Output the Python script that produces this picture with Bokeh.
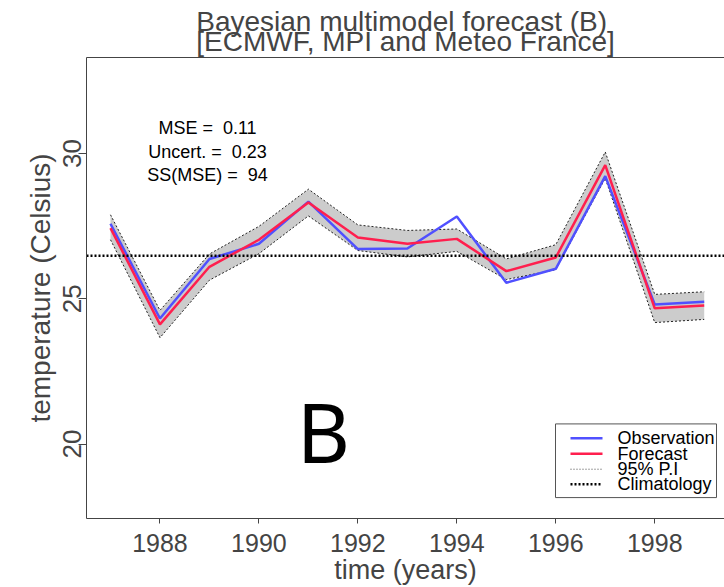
from bokeh.plotting import figure
from bokeh.models import Range1d, LinearAxis, Label, FixedTicker, Span, Title
from bokeh.embed import file_html
from bokeh.resources import INLINE

# ---- data ----
years = [1987, 1988, 1989, 1990, 1991, 1992, 1993, 1994, 1995, 1996, 1997, 1998, 1999]
observation = [27.58, 24.32, 26.37, 26.89, 28.34, 26.71, 26.73, 27.83, 25.55, 26.03, 29.22, 24.80, 24.90]
forecast = [27.43, 24.12, 26.10, 27.03, 28.31, 27.11, 26.89, 27.06, 25.95, 26.42, 29.60, 24.67, 24.77]
pi_upper = [27.89, 24.60, 26.54, 27.49, 28.77, 27.54, 27.35, 27.40, 26.37, 26.86, 30.05, 25.15, 25.24]
pi_lower = [27.03, 23.66, 25.64, 26.55, 27.85, 26.66, 26.44, 26.63, 25.66, 26.00, 29.14, 24.18, 24.29]
climatology = 26.48
x_ticks = [1988, 1990, 1992, 1994, 1996, 1998]
y_ticks = [20, 25, 30]
stats_lines = ["MSE =\u00a0 0.11", "Uncert. =\u00a0 0.23", "SS(MSE) =\u00a0 94"]
title_text = "Bayesian multimodel forecast (B)\n[ECMWF, MPI and Meteo France]"
legend_labels = ["Observation", "Forecast", "95% P.I", "Climatology"]
panel_letter = "B"

FONT = "Liberation Sans"
BLUE = "#5050ff"
RED = "#ff1f4e"

# frame geometry (pixels) and data ranges
W, H = 724, 587
FL, FR, FT, FB = 86, 724, 57, 520
X0, X1 = 1986.515, 1999.41
Y0, Y1 = 17.44, 33.30


def px_x(px):
    return X0 + (px - FL) * (X1 - X0) / (FR - FL)


def px_y(py):
    return Y0 + (FB - py) * (Y1 - Y0) / (FB - FT)


p = figure(width=W, height=H, output_backend="svg", toolbar_location=None,
           x_range=Range1d(X0, X1), y_range=Range1d(Y0, Y1),
           min_border_left=FL, min_border_right=0, min_border_top=FT, min_border_bottom=H - FB,
           x_axis_label="time (years)", y_axis_label="temperature (Celsius)")
p.title = Title(text=title_text, align="center", text_font=FONT, text_font_size="28px",
                text_font_style="normal", text_line_height=0.66, standoff=1)
p.outline_line_color = None
p.xgrid.visible = False
p.ygrid.visible = False
p.background_fill_color = "white"
p.border_fill_color = "white"

# band + its dotted borders
p.varea(x=years, y1=pi_lower, y2=pi_upper, fill_color="#cccccc", fill_alpha=1.0)
p.line(years, pi_upper, line_color="#222222", line_width=1, line_dash="2 2")
p.line(years, pi_lower, line_color="#222222", line_width=1, line_dash="2 2")

p.add_layout(Span(location=climatology, dimension="width", line_color="black",
                  line_width=2.5, line_dash="2 2", level="glyph"))

p.line(years, observation, line_color=BLUE, line_width=2.5)
p.line(years, forecast, line_color=RED, line_width=2.5)

# axes
xa = p.xaxis[0]
xa.ticker = FixedTicker(ticks=x_ticks)
xa.minor_tick_line_color = None
xa.major_tick_out = 5
xa.major_tick_in = 0
xa.major_label_standoff = 10
xa.axis_label_standoff = 0
xa.major_label_text_font = FONT
xa.major_label_text_font_size = "25px"
xa.axis_label_text_font = FONT
xa.axis_label_text_font_size = "27px"
xa.axis_label_text_font_style = "normal"
xa.axis_line_color = "#444444"
xa.major_tick_line_color = "#444444"

ya = p.yaxis[0]
ya.ticker = FixedTicker(ticks=y_ticks)
ya.minor_tick_line_color = None
ya.major_tick_out = 8
ya.major_tick_in = 0
ya.major_label_standoff = -3
ya.axis_label_standoff = 5
ya.major_label_orientation = "parallel"
ya.major_label_text_font = FONT
ya.major_label_text_font_size = "26px"
ya.axis_label_text_font = FONT
ya.axis_label_text_font_size = "28px"
ya.axis_label_text_font_style = "normal"
ya.axis_line_color = "#444444"
ya.major_tick_line_color = "#444444"

top = LinearAxis(ticker=FixedTicker(ticks=[]), major_tick_out=0, major_tick_in=0,
                 minor_tick_out=0, minor_tick_in=0, major_label_text_font_size="0px",
                 major_label_standoff=0, axis_label_standoff=0, axis_line_color="#444444")
p.add_layout(top, "above")

# text annotations
for txt, py in zip(stats_lines, [128, 152, 175]):
    p.add_layout(Label(x=px_x(207), y=px_y(py), text=txt, text_align="center",
                       text_baseline="middle", text_font=FONT, text_font_size="18px",
                       text_color="black"))

p.add_layout(Label(x=px_x(323), y=px_y(432), text=panel_letter, text_align="center",
                   text_baseline="middle", text_font="Noto Sans", text_font_size="82px",
                   text_color="black"))

# legend (drawn like R's legend box)
LG_L, LG_R, LG_T, LG_B = 555, 716, 425, 499
p.quad(left=px_x(LG_L), right=px_x(LG_R), top=px_y(LG_T), bottom=px_y(LG_B),
       fill_color="white", line_color="#555555", line_width=1)
row_y = [439.5, 455, 470.5, 485.5]
styles = [dict(line_color=BLUE, line_width=2.5),
          dict(line_color=RED, line_width=2.5),
          dict(line_color="#444444", line_width=1, line_dash="1 2"),
          dict(line_color="black", line_width=2.5, line_dash="2 2")]
for lab, py, st in zip(legend_labels, row_y, styles):
    p.line([px_x(570), px_x(602)], [px_y(py), px_y(py)], **st)
    p.add_layout(Label(x=px_x(617), y=px_y(py), text=lab, text_align="left",
                       text_baseline="middle", text_font=FONT, text_font_size="18px",
                       text_color="black"))

open("out.html", "w").write(file_html(p, INLINE))
